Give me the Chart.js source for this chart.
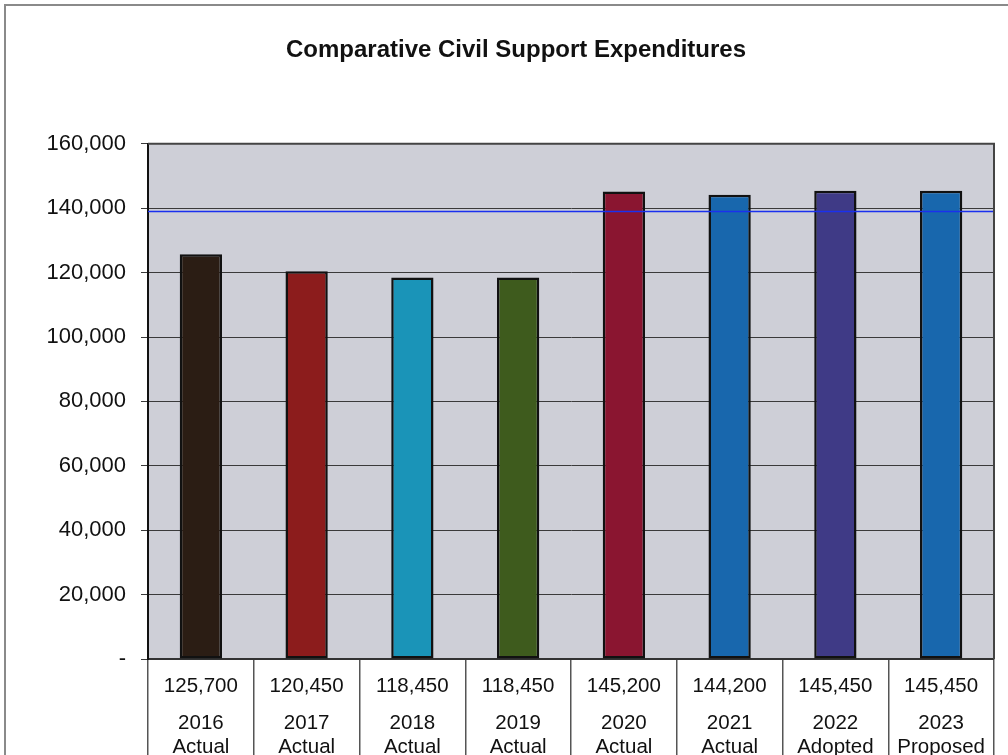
<!DOCTYPE html>
<html>
<head>
<meta charset="utf-8">
<script src="https://cdn.jsdelivr.net/npm/chart.js@4.4.0/dist/chart.umd.min.js"></script>
<style>
  html, body { margin: 0; padding: 0; background: #fff; overflow: hidden; }
  body { width: 1008px; height: 755px; position: relative; }
  #frame {
    position: absolute; left: 4px; top: 4px;
    width: 1030px; height: 810px;
    border-left: 2px solid #8a8a8a; border-top: 2px solid #8a8a8a;
  }
  #chart { display: block; }
</style>
</head>
<body>
<div id="frame"><canvas id="chart" width="1030" height="810"></canvas></div>
<script>
// Data
const years = ['2016', '2017', '2018', '2019', '2020', '2021', '2022', '2023'];
const kinds = ['Actual', 'Actual', 'Actual', 'Actual', 'Actual', 'Actual', 'Adopted', 'Proposed'];
const expenditures = [125700, 120450, 118450, 118450, 145200, 144200, 145450, 145450];
const barColors = ['#2b1d14', '#8c1c1c', '#1a94b8', '#3e5b1d', '#8a1530', '#1867ad', '#3f3a86', '#1867ad'];
const refLine = [139000, 139000, 139000, 139000, 139000, 139000, 139000, 139000];
const yTicks = [0, 20000, 40000, 60000, 80000, 100000, 120000, 140000, 160000];

const FONT = '"Liberation Sans", Arial, sans-serif';
const fmt = v => v === 0 ? '-' : v.toLocaleString('en-US');

// Plot background + frame
const plotArea = {
    id: 'plotArea',
    beforeDraw(chart) {
        const {ctx, chartArea: a} = chart;
        ctx.save();
        ctx.fillStyle = '#cecfd7';
        ctx.fillRect(a.left, a.top, a.right - a.left, a.bottom - a.top);
        ctx.restore();
    },
    afterDraw(chart) {
        const {ctx, chartArea: a} = chart;
        ctx.save();
        ctx.strokeStyle = '#444';
        ctx.lineWidth = 2;
        ctx.beginPath();
        ctx.moveTo(a.left, a.top);
        ctx.lineTo(a.right, a.top);
        ctx.lineTo(a.right, a.bottom);
        ctx.stroke();
        ctx.restore();
    }
};

// Data table under the chart
const dataTable = {
    id: 'dataTable',
    afterDraw(chart) {
        const {ctx, chartArea: a} = chart;
        const x = chart.scales.x;
        ctx.save();
        ctx.font = '20.5px ' + FONT;
        ctx.fillStyle = '#111';
        ctx.textAlign = 'center';
        ctx.textBaseline = 'middle';
        years.forEach((yr, i) => {
            const px = x.getPixelForValue(i);
            ctx.fillText(fmt(expenditures[i]), px, a.bottom + 27);
            ctx.fillText(yr, px, a.bottom + 64);
            ctx.fillText(kinds[i], px, a.bottom + 88);
        });
        ctx.restore();
    }
};

new Chart(document.getElementById('chart'), {
    type: 'bar',
    data: {
        labels: years,
        datasets: [
            {
                type: 'line',
                data: refLine,
                xAxisID: 'x2',
                borderColor: '#1a30ee',
                borderWidth: 1.5,
                pointRadius: 0,
                order: 0
            },
            {
                data: expenditures,
                backgroundColor: barColors,
                borderColor: '#111',
                borderWidth: 2.5,
                borderSkipped: false,
                grouped: false,
                barPercentage: 0.4,
                categoryPercentage: 1,
                order: 1
            }
        ]
    },
    options: {
        responsive: false,
        animation: false,
        events: [],
        layout: { padding: { left: 32, right: 42, top: 0, bottom: 7 } },
        plugins: {
            legend: { display: false },
            tooltip: { enabled: false },
            title: {
                display: true,
                text: 'Comparative Civil Support Expenditures',
                color: '#111',
                font: { family: FONT, size: 24, weight: 'bold' },
                padding: { top: 30, bottom: 79 }
            }
        },
        scales: {
            x: {
                offset: true,
                grid: {
                    offset: true,
                    drawOnChartArea: false,
                    drawTicks: true,
                    tickLength: 150,
                    color: '#555',
                    lineWidth: 1.5
                },
                border: { display: true, color: '#333', width: 2 },
                ticks: { display: false }
            },
            x2: {
                type: 'category',
                labels: years,
                offset: false,
                display: false
            },
            y: {
                min: 0,
                max: 160000,
                afterBuildTicks: s => { s.ticks = yTicks.map(v => ({value: v})); },
                afterFit: s => { s.width = 110; },
                grid: {
                    color: '#3a3a3a',
                    lineWidth: 1,
                    drawTicks: true,
                    tickLength: 7
                },
                border: { display: true, color: '#111', width: 2 },
                ticks: {
                    padding: 15,
                    color: '#111',
                    font: { family: FONT, size: 22 },
                    callback: v => fmt(v)
                }
            }
        }
    },
    plugins: [plotArea, dataTable]
});
</script>
</body>
</html>
